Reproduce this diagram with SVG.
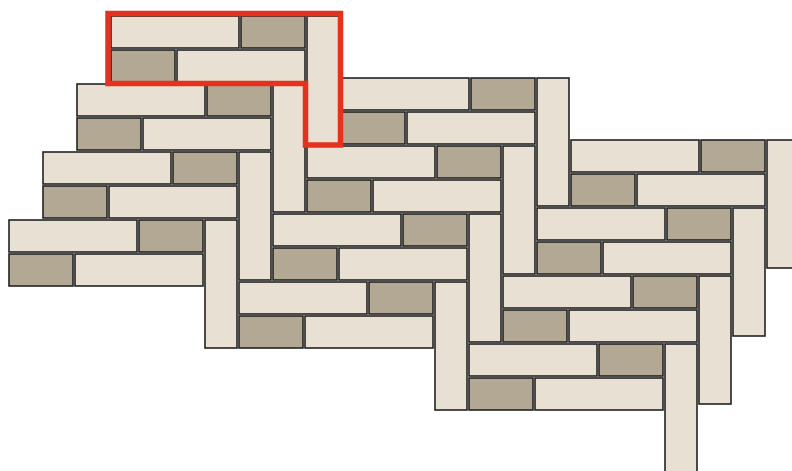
<svg xmlns="http://www.w3.org/2000/svg" width="792" height="471" viewBox="0 0 792 471">
<style>
.l{fill:#e8e1d3;stroke:#222;stroke-width:1.6}
.d{fill:#b3a893;stroke:#222;stroke-width:1.6}
.hl{fill:none;stroke:#e5321f;stroke-width:5.5;stroke-linejoin:miter}
</style>
<defs>
<g id="unit">
<rect class="l" x="0" y="0" width="128" height="32"/>
<rect class="d" x="130" y="0" width="64" height="32"/>
<rect class="d" x="0" y="34" width="64" height="32"/>
<rect class="l" x="66" y="34" width="128" height="32"/>
<rect class="l" x="196" y="0" width="32" height="128"/>
</g>
</defs>
<rect width="792" height="471" fill="#fff"/>
<g id="column-a">
<use id="a1" href="#unit" x="111" y="16"/>
<use id="a2" href="#unit" x="77" y="84"/>
<use id="a3" href="#unit" x="43" y="152"/>
<use id="a4" href="#unit" x="9" y="220"/>
</g>
<g id="column-b">
<use id="b1" href="#unit" x="341" y="78"/>
<use id="b2" href="#unit" x="307" y="146"/>
<use id="b3" href="#unit" x="273" y="214"/>
<use id="b4" href="#unit" x="239" y="282"/>
</g>
<g id="column-c">
<use id="c1" href="#unit" x="571" y="140"/>
<use id="c2" href="#unit" x="537" y="208"/>
<use id="c3" href="#unit" x="503" y="276"/>
<use id="c4" href="#unit" x="469" y="344"/>
</g>
<g id="highlight">
<path class="hl" d="M108,13.5 H340.5 V145 H305.5 V83.5 H108 Z"/>
</g>
</svg>
